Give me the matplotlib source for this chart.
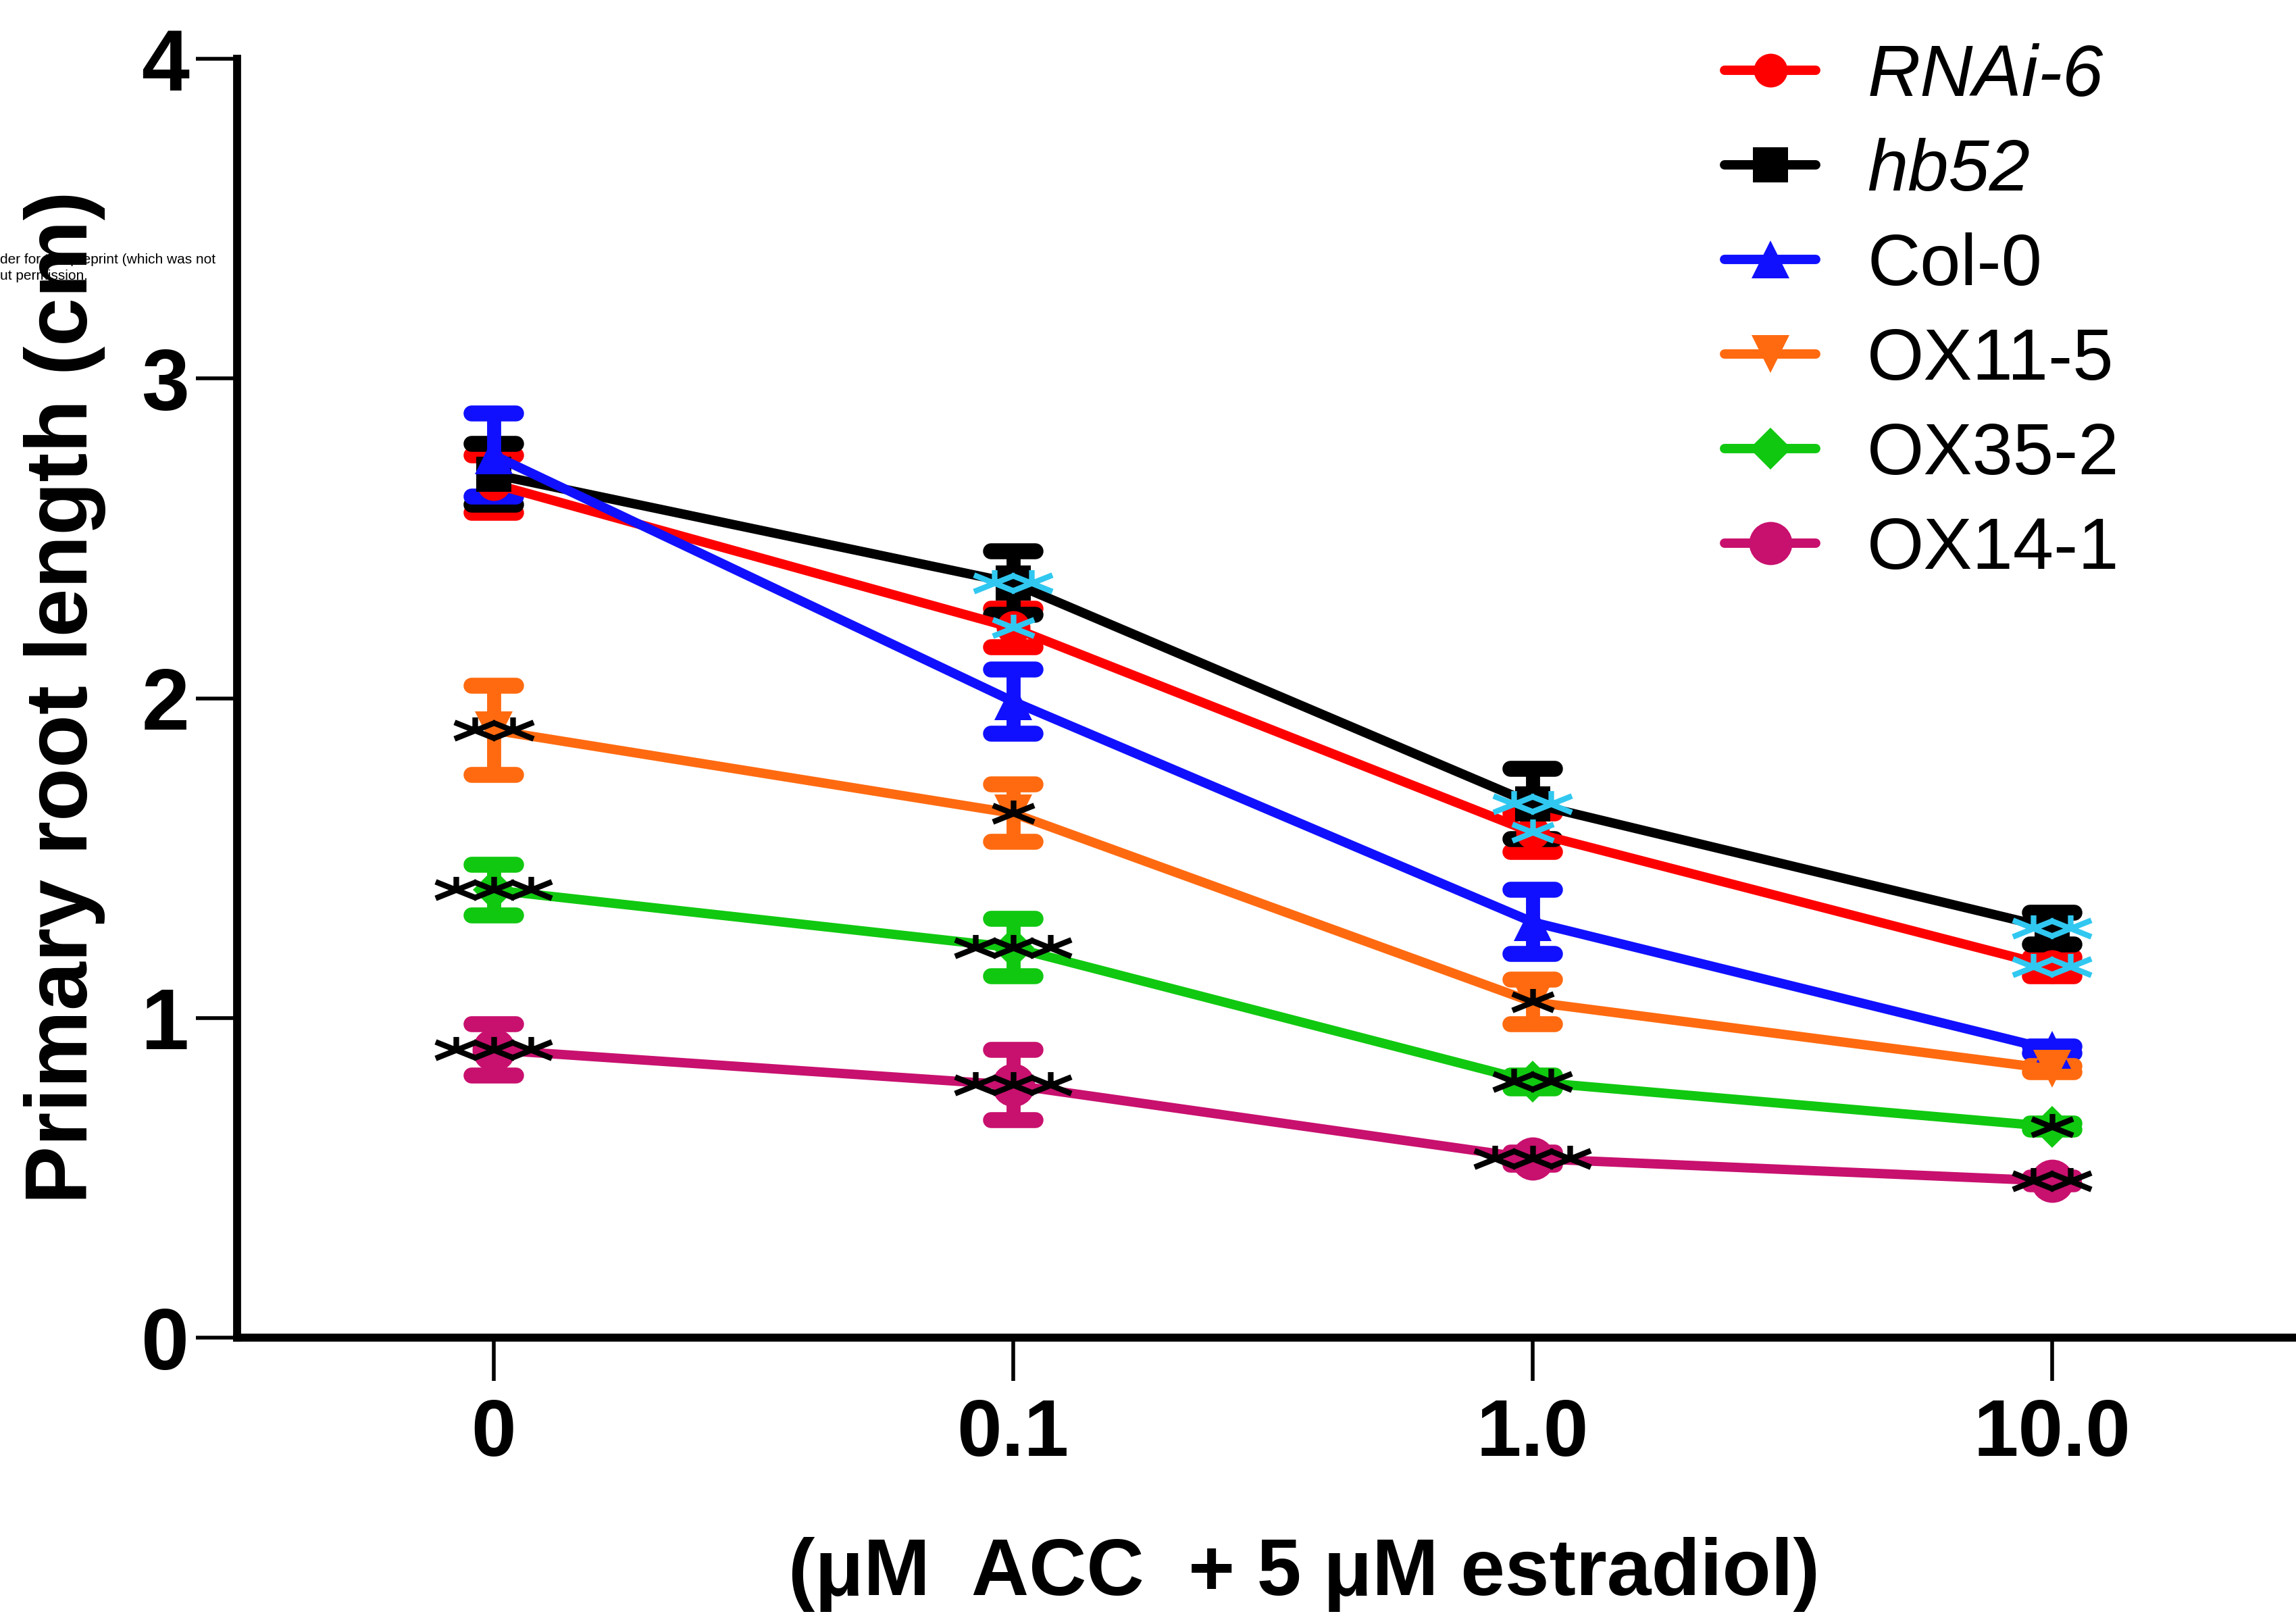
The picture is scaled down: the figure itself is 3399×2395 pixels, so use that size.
import numpy as np
import matplotlib.pyplot as plt
from matplotlib.path import Path
from matplotlib.markers import MarkerStyle
from matplotlib import font_manager

# x categories (uM ACC)
doses = ["0", "0.1", "1.0", "10.0"]
names = ["RNAi-6", "hb52", "Col-0", "OX11-5", "OX35-2", "OX14-1"]

rnai6 = [2.67, 2.22, 1.58, 1.16]
rnai6_err = [0.09, 0.06, 0.06, 0.03]
hb52 = [2.70, 2.36, 1.67, 1.28]
hb52_err = [0.095, 0.10, 0.11, 0.05]
col0 = [2.76, 1.99, 1.30, 0.90]
col0_err = [0.13, 0.10, 0.10, 0.01]
ox11_5 = [1.90, 1.64, 1.05, 0.84]
ox11_5_err = [0.14, 0.09, 0.07, 0.01]
ox35_2 = [1.40, 1.22, 0.80, 0.66]
ox35_2_err = [0.08, 0.09, 0.02, 0.01]
ox14_1 = [0.90, 0.79, 0.56, 0.49]
ox14_1_err = [0.08, 0.11, 0.02, 0.01]

# significance marks
rnai6_sig = ["", "*", "*", "**"]
hb52_sig = ["", "**", "**", "**"]
col0_sig = ["", "", "", ""]
ox11_5_sig = ["**", "*", "*", ""]
ox35_2_sig = ["***", "***", "**", "*"]
ox14_1_sig = ["***", "***", "***", "**"]

values = [rnai6, hb52, col0, ox11_5, ox35_2, ox14_1]
errors = [rnai6_err, hb52_err, col0_err, ox11_5_err, ox35_2_err, ox14_1_err]
sigs = [rnai6_sig, hb52_sig, col0_sig, ox11_5_sig, ox35_2_sig, ox14_1_sig]

colors = ["#ff0000", "#000000", "#1010ff", "#ff6a10", "#10c810", "#c8106e"]
markers = ["o", "s", "^", "v", "D", "o"]
msizes = [36, 38, 40, 40, 32, 46]
star_colors = ["#30c8f0", "#30c8f0", "k", "k", "k", "k"]


def has_font(name):
    try:
        font_manager.findfont(font_manager.FontProperties(family=name), fallback_to_default=False)
        return True
    except Exception:
        return False


narrow = ["Liberation Sans Narrow", "Liberation Sans"] if has_font("Liberation Sans Narrow") else ["Liberation Sans"]
plt.rcParams["font.family"] = ["Liberation Sans", "DejaVu Sans"]

# squashed asterisk, like the stretched stars in the figure
star = Path([(-0.5, -0.2), (0.5, 0.2), (-0.5, 0.2), (0.5, -0.2), (0, 0), (0, 0.32)],
            [Path.MOVETO, Path.LINETO, Path.MOVETO, Path.LINETO, Path.MOVETO, Path.LINETO])

fig = plt.figure(figsize=(33.99, 23.95), dpi=100)
ax = fig.add_axes([351 / 3399, 415 / 2395, 1 - 351 / 3399, (1980 - 87) / 2395])

x = np.arange(len(doses))
handles = []
for i in range(len(names)):
    eb = ax.errorbar(x, values[i], yerr=errors[i], fmt="none", ecolor=colors[i],
                     elinewidth=15, capsize=24, capthick=17, zorder=2 + i * 0.1)
    for cl in eb[1]:
        cl.set_marker(MarkerStyle("_", capstyle="round"))
    ln, = ax.plot(x, values[i], color=colors[i], lw=10, marker=markers[i],
                  markersize=msizes[i], markeredgewidth=0, zorder=3 + i * 0.1,
                  label=names[i], solid_capstyle="round")
    handles.append(ln)

step = 0.072
for i in range(len(names)):
    for j, s in enumerate(sigs[i]):
        n = len(s)
        if n == 0:
            continue
        xs = x[j] + (np.arange(n) - (n - 1) / 2) * step
        ax.plot(xs, [values[i][j]] * n, linestyle="none", marker=star, markersize=44,
                markeredgewidth=6, markeredgecolor=star_colors[i], markerfacecolor="none",
                zorder=10)

ax.set_xlim(-0.494, 3.47)
ax.set_ylim(0, 4)
ax.set_yticks([0, 1, 2, 3, 4])
ax.set_xticks(x)
ax.set_xticklabels(doses)
for sp in ["top", "right"]:
    ax.spines[sp].set_visible(False)
ax.spines["left"].set_linewidth(8.5)
ax.spines["bottom"].set_linewidth(8.5)
ax.tick_params(axis="y", length=44, width=4, pad=7, labelsize=92)
ax.tick_params(axis="x", length=46, width=4, pad=18, labelsize=86)
for t in ax.get_yticklabels():
    t.set_fontweight("bold")
for t in ax.get_xticklabels():
    t.set_fontweight("bold")
    t.set_family(narrow)

fig.text(96 / 3399, 1 - 1032 / 2395, "Primary root length (cm)", rotation=90,
         ha="center", va="center", fontsize=93, fontweight="bold")
fig.text(1930 / 3399, 1 - 2330 / 2395, "(μM  ACC  + 5 μM estradiol)",
         ha="center", va="center", fontsize=85, fontweight="bold", family=narrow)

leg = fig.legend(handles=handles, loc="upper left", bbox_to_anchor=(2553 / 3399, 1 - 64 / 2395),
                 frameon=False, fontsize=78, handlelength=1.25, handletextpad=0.7,
                 labelspacing=0.37, borderpad=0, borderaxespad=0, numpoints=1)
leg.get_texts()[0].set_style("italic")
leg.get_texts()[1].set_style("italic")

# clipped margin text from the preprint page
fig.text(0, 1 - 384 / 2395, "der for this preprint (which was not", fontsize=15, va="center", ha="left")
fig.text(0, 1 - 408 / 2395, "ut permission.", fontsize=15, va="center", ha="left")

fig.savefig("out.png", dpi=100)
